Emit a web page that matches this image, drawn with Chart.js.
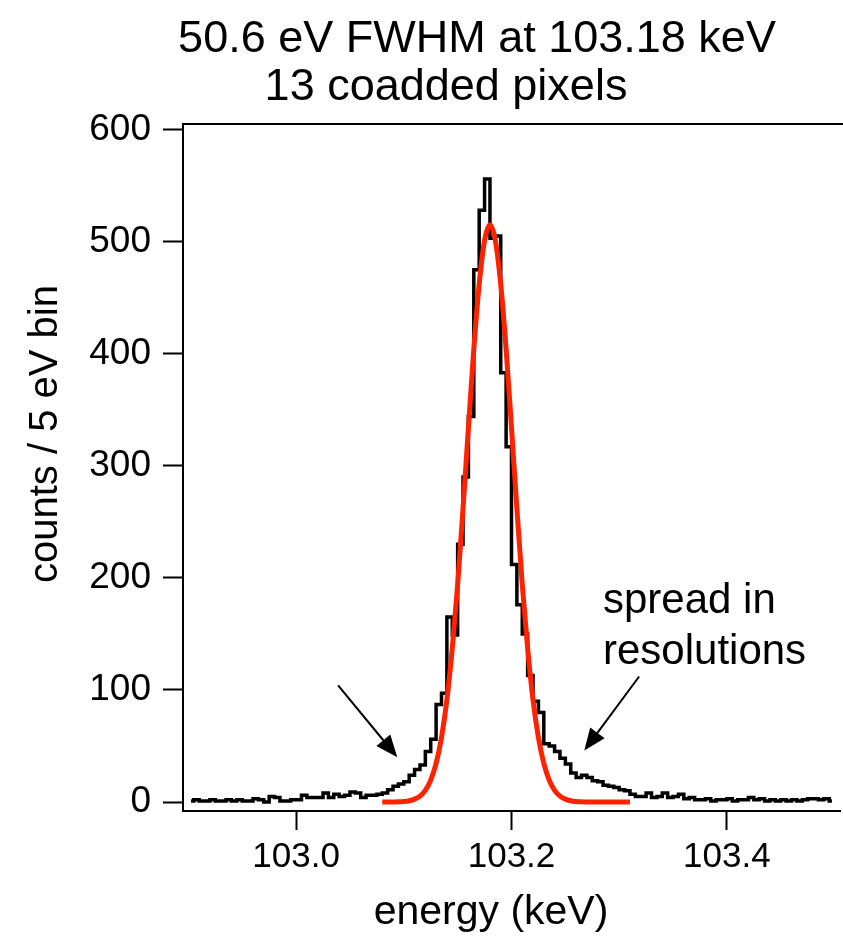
<!DOCTYPE html>
<html>
<head>
<meta charset="utf-8">
<script src="https://cdn.jsdelivr.net/npm/chart.js@4.4.1/dist/chart.umd.min.js"></script>
<style>
  body { margin: 0; background: #fff; }
  canvas { display: block; }
</style>
</head>
<body>
<canvas id="myChart" width="843" height="938"></canvas>
<script>
/* data : 5 eV bins from 102.900 to 103.500 keV */
const binStart = 102.9;
const binWidth = 0.005;
const counts = [
  1, 2, 1, 1, 2, 1, 1, 2, 1, 2,
  1, 1, 3, 2, 0, 5, 4, 1, 1, 2,
  2, 6, 4, 4, 4, 8, 4, 7, 5, 6,
  9, 8, 4, 6, 6, 7, 8, 11, 14, 16,
  18, 24, 29, 33, 45, 56, 87, 97, 165, 149,
  230, 290, 344, 475, 528, 556, 503, 505, 383, 317,
  212, 176, 150, 113, 90, 80, 52, 50, 45, 39,
  34, 26, 22, 24, 22, 19, 18, 15, 14, 13,
  11, 10, 7, 5, 5, 8, 4, 5, 8, 4,
  5, 7, 3, 4, 2, 2, 3, 1, 2, 2,
  3, 1, 2, 2, 4, 2, 3, 1, 2, 1,
  2, 1, 2, 1, 2, 3, 3, 2, 3, 1
];

/* gaussian fit (red), read every 5 eV from 103.080 keV */
const fitStart = 103.08;
const fitValues = [
  0, 0, 0.1, 0.2, 0.5, 1.2, 2.6, 5.3, 10.4, 19.5,
  34.4, 57.5, 91, 137, 194, 262, 334, 404, 462, 501,
  515,
  501, 462, 404, 334, 262, 194, 137, 91, 57.5, 34.4,
  19.5, 10.4, 5.3, 2.6, 1.2, 0.5, 0.2, 0.1,
  0, 0, 0, 0, 0, 0, 0, 0
];

const xTicks = [103.0, 103.2, 103.4];
const yTicks = [0, 100, 200, 300, 400, 500, 600];

const titleLines = ['50.6 eV FWHM at 103.18 keV', '13 coadded pixels'];
const noteLines = ['spread in', 'resolutions'];
// arrows in data coords [energy, counts]
const arrows = [
  { from: [103.039, 104], to: [103.094, 40] },
  { from: [103.3185, 112], to: [103.2676, 46] }
];

const histPts = counts.map((c, i) => ({ x: binStart + binWidth * (i + 0.5), y: c }));
const fitPts = fitValues.map((v, i) => ({ x: fitStart + binWidth * i, y: v }));

const FONT = "'Liberation Sans', Arial, Helvetica, sans-serif";

// 글자, 화살표, 위쪽 테두리
const extras = {
  id: 'extras',
  afterDraw(chart) {
    const c = chart.ctx;
    const area = chart.chartArea;
    const xs = chart.scales.x;
    const ys = chart.scales.y;
    c.save();
    // top frame
    c.strokeStyle = '#000';
    c.lineWidth = 2;
    c.beginPath();
    c.moveTo(area.left - 1, area.top);
    c.lineTo(area.right + 3, area.top);
    c.stroke();

    c.fillStyle = '#000';
    c.textBaseline = 'alphabetic';
    // title
    c.font = '45px ' + FONT;
    c.textAlign = 'center';
    c.fillText(titleLines[0], 477, 52);
    c.fillText(titleLines[1], 446, 100);

    // axis titles
    c.font = '41px ' + FONT;
    c.fillText('energy (keV)', 491, 924);
    c.save();
    c.translate(57, 434);
    c.rotate(-Math.PI / 2);
    c.font = '40px ' + FONT;
    c.fillText('counts / 5 eV bin', 0, 0);
    c.restore();

    // note
    c.font = '42px ' + FONT;
    c.textAlign = 'left';
    c.fillText(noteLines[0], 603, 613);
    c.fillText(noteLines[1], 603, 664);

    // arrows
    arrows.forEach(a => {
      const x1 = xs.getPixelForValue(a.from[0]);
      const y1 = ys.getPixelForValue(a.from[1]);
      const x2 = xs.getPixelForValue(a.to[0]);
      const y2 = ys.getPixelForValue(a.to[1]);
      const ang = Math.atan2(y2 - y1, x2 - x1);
      const hl = 22, hw = 9;
      const bx = x2 - hl * Math.cos(ang);
      const by = y2 - hl * Math.sin(ang);
      c.lineWidth = 2;
      c.beginPath();
      c.moveTo(x1, y1);
      c.lineTo(bx, by);
      c.stroke();
      c.beginPath();
      c.moveTo(x2, y2);
      c.lineTo(bx + hw * Math.sin(ang), by - hw * Math.cos(ang));
      c.lineTo(bx - hw * Math.sin(ang), by + hw * Math.cos(ang));
      c.closePath();
      c.fill();
    });
    c.restore();
  }
};

const chartArea = document.getElementById('myChart').getContext('2d');
const myChart = new Chart(chartArea, {
  type: 'line',
  data: {
    datasets: [{
      label: 'fit',
      data: fitPts,
      borderColor: 'rgb(255,34,0)',
      borderWidth: 5,
      pointRadius: 0,
      cubicInterpolationMode: 'monotone',
      order: 0
    }, {
      label: 'counts / 5 eV bin',
      data: histPts,
      borderColor: '#000',
      borderWidth: 3.5,
      pointRadius: 0,
      stepped: 'middle',
      order: 1
    }]
  },
  options: {
    responsive: false,
    animation: false,
    layout: { padding: { left: 0, right: 3, top: 124, bottom: 0 } },
    plugins: {
      legend: { display: false },
      tooltip: { enabled: false }
    },
    scales: {
      x: {
        type: 'linear',
        min: 102.895,
        max: 103.505,
        afterBuildTicks: s => { s.ticks = xTicks.map(v => ({ value: v })); },
        afterFit: s => { s.height = 127; },
        ticks: {
          color: '#000',
          font: { family: FONT, size: 35 },
          padding: 6,
          maxRotation: 0,
          callback: v => v.toFixed(1)
        },
        grid: { drawOnChartArea: false, tickLength: 19, tickWidth: 2, tickColor: '#000' },
        border: { color: '#000', width: 2 }
      },
      y: {
        min: -8,
        max: 605,
        afterBuildTicks: s => { s.ticks = yTicks.map(v => ({ value: v })); },
        afterFit: s => { s.width = 183; },
        ticks: {
          color: '#000',
          font: { family: FONT, size: 37 },
          padding: 12
        },
        grid: { drawOnChartArea: false, tickLength: 20, tickWidth: 2, tickColor: '#000' },
        border: { color: '#000', width: 2 }
      }
    }
  },
  plugins: [extras]
});
</script>
</body>
</html>
